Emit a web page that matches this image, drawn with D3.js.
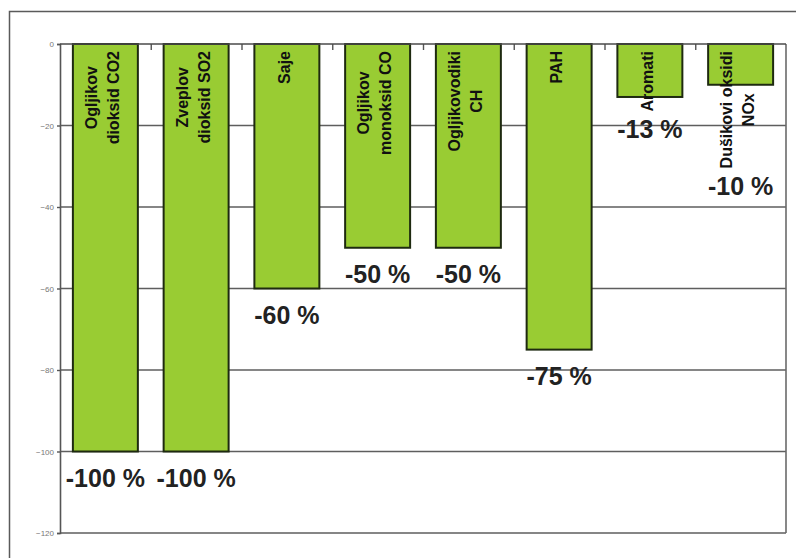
<!DOCTYPE html>
<html>
<head>
<meta charset="utf-8">
<script src="https://cdn.jsdelivr.net/npm/d3@7"></script>
<style>
  html, body { margin: 0; padding: 0; background: #fff; }
  svg { display: block; }
</style>
</head>
<body>
<script>
// Emission reductions per pollutant (percent change)
const categories = [
  "Ogljikov dioksid CO2",
  "Zveplov dioksid SO2",
  "Saje",
  "Ogljikov monoksid CO",
  "Ogljikovodiki CH",
  "PAH",
  "Aromati",
  "Dušikovi oksidi NOx"
];
const categoryLines = [
  ["Ogljikov", "dioksid CO2"],
  ["Zveplov", "dioksid SO2"],
  ["Saje"],
  ["Ogljikov", "monoksid CO"],
  ["Ogljikovodiki", "CH"],
  ["PAH"],
  ["Aromati"],
  ["Dušikovi oksidi", "NOx"]
];
const values = [-100, -100, -60, -50, -50, -75, -13, -10];
const valueLabels = ["-100 %", "-100 %", "-60 %", "-50 %", "-50 %", "-75 %", "-13 %", "-10 %"];
const yTicks = [0, -20, -40, -60, -80, -100, -120];

const W = 796, H = 558;
const plot = { left: 60, top: 44, right: 786, bottom: 533 };

const svg = d3.select("body").append("svg")
  .attr("width", W).attr("height", H);

svg.append("rect").attr("width", W).attr("height", H).attr("fill", "#fff");

// Outer chart frame (runs off the right and bottom edges)
svg.append("rect")
  .attr("x", 9.5).attr("y", 11.5)
  .attr("width", W + 20).attr("height", H + 20)
  .attr("fill", "none").attr("stroke", "#5a5a5a").attr("stroke-width", 1.5);

const y = d3.scaleLinear().domain([0, -120]).range([plot.top, plot.bottom]);
const x = d3.scaleBand().domain(categories)
  .range([plot.left, plot.right]).paddingInner(0.284).paddingOuter(0.142);
const xEdge = d3.scaleLinear().domain([0, categories.length]).range([plot.left, plot.right]);

// Horizontal gridlines
svg.append("g").selectAll("line")
  .data(yTicks.filter(d => d !== 0))
  .join("line")
  .attr("x1", plot.left).attr("x2", plot.right)
  .attr("y1", d => y(d)).attr("y2", d => y(d))
  .attr("stroke", "#5e5e5e").attr("stroke-width", 1.6);

// Plot border on the right
svg.append("line")
  .attr("x1", plot.right).attr("x2", plot.right)
  .attr("y1", plot.top).attr("y2", plot.bottom)
  .attr("stroke", "#6a6a6a").attr("stroke-width", 1.6);

// Bars
svg.append("g").selectAll("rect")
  .data(values)
  .join("rect")
  .attr("x", (d, i) => x(categories[i]))
  .attr("y", y(0))
  .attr("width", x.bandwidth())
  .attr("height", d => y(d) - y(0))
  .attr("fill", "#99cc33")
  .attr("stroke", "#1e2a10").attr("stroke-width", 2);

// Value axis on the left
const yAxis = svg.append("g")
  .attr("transform", `translate(${plot.left},0)`)
  .call(d3.axisLeft(y).tickValues(yTicks).tickSize(3).tickPadding(3));
yAxis.select(".domain").attr("stroke", "#555").attr("stroke-width", 1.6);
yAxis.selectAll(".tick line").attr("stroke", "#555").attr("stroke-width", 1.4);
yAxis.selectAll(".tick text")
  .attr("fill", "#777")
  .style("font-family", "'Liberation Sans', Arial, sans-serif")
  .style("font-size", "8px");

// Category axis along the zero line, ticks between categories
const xAxis = svg.append("g")
  .attr("transform", `translate(0,${plot.top})`)
  .call(d3.axisTop(xEdge).tickValues(d3.range(1, categories.length)).tickSize(-6).tickFormat(""));
xAxis.select(".domain").remove();
xAxis.selectAll(".tick line").attr("stroke", "#555").attr("stroke-width", 1.4);
svg.append("line")
  .attr("x1", plot.left).attr("x2", plot.right)
  .attr("y1", plot.top).attr("y2", plot.top)
  .attr("stroke", "#4a4a4a").attr("stroke-width", 1.6);

// Rotated category names inside the bars
const labelTop = plot.top + 7;
const lineGap = 22;
const capHalf = 5.7;
const textEnds = [];
categoryLines.forEach((lines, i) => {
  const cx = x(categories[i]) + x.bandwidth() / 2 - 3;
  const g = svg.append("g");
  const texts = lines.map(t => g.append("text")
    .text(t)
    .attr("text-anchor", "middle")
    .attr("fill", "#111")
    .style("font-family", "'Liberation Sans', Arial, sans-serif")
    .style("font-weight", "bold")
    .style("font-size", "16px"));
  const maxLen = d3.max(texts, t => t.node().getComputedTextLength());
  const cy = labelTop + maxLen / 2;
  texts.forEach((t, j) => {
    const lx = cx + (j - (lines.length - 1) / 2) * lineGap + capHalf;
    t.attr("transform", `translate(${lx},${cy}) rotate(-90)`);
  });
  textEnds.push(labelTop + maxLen);
});

// Value labels below each bar (pushed clear of a long category name)
svg.append("g").selectAll("text")
  .data(values)
  .join("text")
  .attr("x", (d, i) => x(categories[i]) + x.bandwidth() / 2)
  .attr("y", (d, i) => Math.max(y(d) + 35, textEnds[i] + 27))
  .attr("text-anchor", "middle")
  .attr("fill", "#222")
  .style("font-family", "'Liberation Sans', Arial, sans-serif")
  .style("font-weight", "bold")
  .style("font-size", "25px")
  .text((d, i) => valueLabels[i]);
</script>
</body>
</html>
